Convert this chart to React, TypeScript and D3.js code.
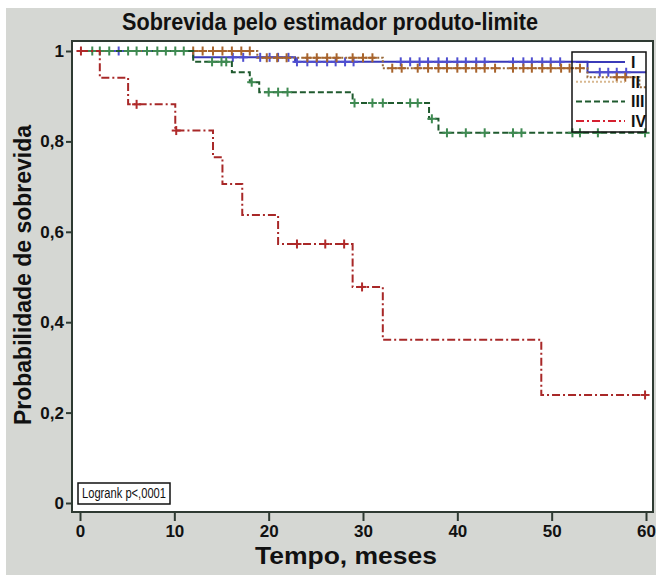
import { useEffect, useRef } from "react";
import * as d3 from "d3";

// Kaplan-Meier step data (time in months, survival)
const groups = ["I", "II", "III", "IV"];

const timesI = [0, 12, 22.8, 53.8];
const survI = [1, 0.986, 0.976, 0.953];
const censorI = [4.1, 16.2, 17.3, 19.1, 20.1, 21, 22.1, 23, 24.1, 25.1, 26.2, 27.1, 28.1, 29, 34, 35, 36, 36.9, 38, 38.9, 40, 40.9, 42, 42.9, 45.9, 47, 47.9, 49, 49.9, 50.9, 55.1, 56, 56.9, 57.9];

const timesII = [0, 18.8, 32.1, 53.8, 59.3];
const survII = [1, 0.985, 0.962, 0.942, 0.92];
const censorII = [12, 13, 14.1, 15.1, 16.1, 17.1, 18, 19.8, 20.9, 21.9, 24.1, 25.1, 26.2, 27.2, 28.9, 30, 31, 33.1, 34.1, 35.8, 36.9, 38, 38.9, 40, 40.9, 42, 42.9, 44, 45.9, 47, 47.9, 49, 49.9, 51, 51.9, 53, 56.9, 57.8];

const timesIII = [0, 12, 16.1, 18, 19, 28.9, 37, 38];
const survIII = [1, 0.976, 0.953, 0.931, 0.909, 0.885, 0.85, 0.819];
const censorIII = [1.3, 2.1, 3.1, 5.1, 6, 7.1, 8.2, 9.1, 10.1, 11, 14, 15, 15.5, 18.2, 20, 21, 22, 29.1, 31, 32.1, 35, 35.8, 37.3, 38.9, 40.9, 42.9, 45.9, 46.8, 52.2, 53, 54.9, 59.9];

const timesIV = [0, 2.1, 5.1, 10.1, 14.1, 15.1, 17.2, 21, 28.9, 32.1, 48.9];
const survIV = [1, 0.941, 0.882, 0.824, 0.765, 0.706, 0.637, 0.573, 0.478, 0.361, 0.239];
const censorIV = [0.1, 6, 10.2, 23, 26, 28, 29.9, 59.9];

const xTicks = [0, 10, 20, 30, 40, 50, 60];
const yTicks = [0, 0.2, 0.4, 0.6, 0.8, 1];

const series = [
  { name: "I", times: timesI, surv: survI, censor: censorI, line: "#3a3ab8", mark: "#4f4fd0", dash: null, legend: "#3a3ab8" },
  { name: "II", times: timesII, surv: survII, censor: censorII, line: "#9a6a3a", mark: "#a8642c", dash: "2,2", legend: "#d8b890" },
  { name: "III", times: timesIII, surv: survIII, censor: censorIII, line: "#1f5a2e", mark: "#3f8a52", dash: "6,3", legend: "#1f5a2e" },
  { name: "IV", times: timesIV, surv: survIV, censor: censorIV, line: "#a82828", mark: "#b02a2a", dash: "8,3,2,3", legend: "#d52030" },
];

const FONT = "'Liberation Sans', Arial, sans-serif";

// survival value at time t for a step function
const survAt = (times: number[], surv: number[], t: number) => {
  let v = surv[0];
  for (let i = 0; i < times.length; i++) if (times[i] <= t) v = surv[i];
  return v;
};

export default function App() {
  const svgRef = useRef<SVGSVGElement>(null);
  const width = 656;
  const height = 575;

  useEffect(() => {
    const svg = d3.select(svgRef.current);
    svg.selectAll("*").remove();

    const frame = { left: 72, top: 41, right: 653, bottom: 512 };
    const x = d3.scaleLinear().domain([0, 60]).range([80, 646]);
    const y = d3.scaleLinear().domain([0, 1]).range([503, 51]);

    // backgrounds
    svg.append("rect").attr("x", 6).attr("y", 8).attr("width", width - 6).attr("height", height - 8).attr("fill", "#d5d7d3");
    svg
      .append("rect")
      .attr("x", frame.left)
      .attr("y", frame.top)
      .attr("width", frame.right - frame.left)
      .attr("height", frame.bottom - frame.top)
      .attr("fill", "#fff");

    // title (condensed look via textLength)
    svg
      .append("text")
      .attr("x", 330)
      .attr("y", 30)
      .attr("text-anchor", "middle")
      .attr("font-family", FONT)
      .attr("font-weight", "bold")
      .attr("font-size", 24)
      .attr("textLength", 416)
      .attr("lengthAdjust", "spacingAndGlyphs")
      .attr("fill", "#111")
      .text("Sobrevida pelo estimador produto-limite");

    // curves
    const line = d3
      .line<[number, number]>()
      .x((d) => x(d[0]))
      .y((d) => y(d[1]))
      .curve(d3.curveStepAfter);

    series.forEach((s) => {
      const pts: [number, number][] = s.times.map((t, i) => [t, s.surv[i]]);
      pts.push([60, s.surv[s.surv.length - 1]]);
      svg
        .append("path")
        .attr("d", line(pts))
        .attr("fill", "none")
        .attr("stroke", s.line)
        .attr("stroke-width", 2)
        .attr("stroke-dasharray", s.dash);

      const g = svg.append("g").attr("stroke", s.mark).attr("stroke-width", 2);
      s.censor.forEach((t) => {
        const cx = x(t);
        const cy = y(survAt(s.times, s.surv, t));
        g.append("line").attr("x1", cx - 4.5).attr("x2", cx + 4.5).attr("y1", cy).attr("y2", cy);
        g.append("line").attr("x1", cx).attr("x2", cx).attr("y1", cy - 4.5).attr("y2", cy + 4.5);
      });
    });

    // frame
    svg
      .append("rect")
      .attr("x", frame.left)
      .attr("y", frame.top)
      .attr("width", frame.right - frame.left)
      .attr("height", frame.bottom - frame.top)
      .attr("fill", "none")
      .attr("stroke", "#2e3a32")
      .attr("stroke-width", 2);

    // x axis
    const xAxis = svg.append("g").attr("transform", `translate(0,${frame.bottom})`);
    xAxis
      .call(d3.axisBottom(x).tickValues(xTicks).tickSize(9).tickPadding(4).tickFormat(d3.format("d")))
      .call((g) => g.select(".domain").remove());
    xAxis.selectAll(".tick line").attr("stroke", "#2e3a32").attr("stroke-width", 2);
    xAxis
      .selectAll(".tick text")
      .attr("font-family", FONT)
      .attr("font-weight", "bold")
      .attr("font-size", 17)
      .attr("fill", "#111");

    // y axis
    const yAxis = svg.append("g").attr("transform", `translate(${frame.left},0)`);
    yAxis
      .call(
        d3
          .axisLeft(y)
          .tickValues(yTicks)
          .tickSize(6)
          .tickPadding(2)
          .tickFormat((d) => (d === 0 || d === 1 ? String(d) : d3.format(".1f")(d as number).replace(".", ",")))
      )
      .call((g) => g.select(".domain").remove());
    yAxis.selectAll(".tick line").attr("stroke", "#2e3a32").attr("stroke-width", 2);
    yAxis
      .selectAll(".tick text")
      .attr("font-family", FONT)
      .attr("font-weight", "bold")
      .attr("font-size", 17)
      .attr("fill", "#111");

    // axis labels
    svg
      .append("text")
      .attr("x", 346)
      .attr("y", 564)
      .attr("text-anchor", "middle")
      .attr("font-family", FONT)
      .attr("font-weight", "bold")
      .attr("font-size", 24)
      .attr("textLength", 182)
      .attr("lengthAdjust", "spacingAndGlyphs")
      .attr("fill", "#111")
      .text("Tempo, meses");
    svg
      .append("text")
      .attr("transform", "translate(31,275) rotate(-90)")
      .attr("text-anchor", "middle")
      .attr("font-family", FONT)
      .attr("font-weight", "bold")
      .attr("font-size", 23)
      .attr("textLength", 300)
      .attr("lengthAdjust", "spacingAndGlyphs")
      .attr("fill", "#111")
      .text("Probabilidade de sobrevida");

    // legend
    const leg = svg.append("g");
    leg
      .append("rect")
      .attr("x", 572)
      .attr("y", 52)
      .attr("width", 74)
      .attr("height", 80)
      .attr("fill", "none")
      .attr("stroke", "#111")
      .attr("stroke-width", 1.5);
    groups.forEach((name, i) => {
      const s = series.find((d) => d.name === name)!;
      const ly = 62 + i * 19.7;
      leg
        .append("line")
        .attr("x1", 576)
        .attr("x2", 625)
        .attr("y1", ly)
        .attr("y2", ly)
        .attr("stroke", s.legend)
        .attr("stroke-width", 2)
        .attr("stroke-dasharray", s.dash);
      leg
        .append("text")
        .attr("x", 631)
        .attr("y", ly + 6)
        .attr("font-family", FONT)
        .attr("font-weight", "bold")
        .attr("font-size", 16)
        .attr("fill", "#111")
        .text(name);
    });

    // logrank box
    svg
      .append("rect")
      .attr("x", 78)
      .attr("y", 483)
      .attr("width", 92)
      .attr("height", 21)
      .attr("fill", "#fff")
      .attr("stroke", "#111")
      .attr("stroke-width", 1.5);
    svg
      .append("text")
      .attr("x", 124)
      .attr("y", 498)
      .attr("text-anchor", "middle")
      .attr("font-family", FONT)
      .attr("font-size", 14)
      .attr("textLength", 84)
      .attr("lengthAdjust", "spacingAndGlyphs")
      .attr("fill", "#111")
      .text("Logrank p<,0001");
  }, []);

  return <svg ref={svgRef} width={width} height={height} style={{ position: "absolute", left: 0, top: 0 }} />;
}
